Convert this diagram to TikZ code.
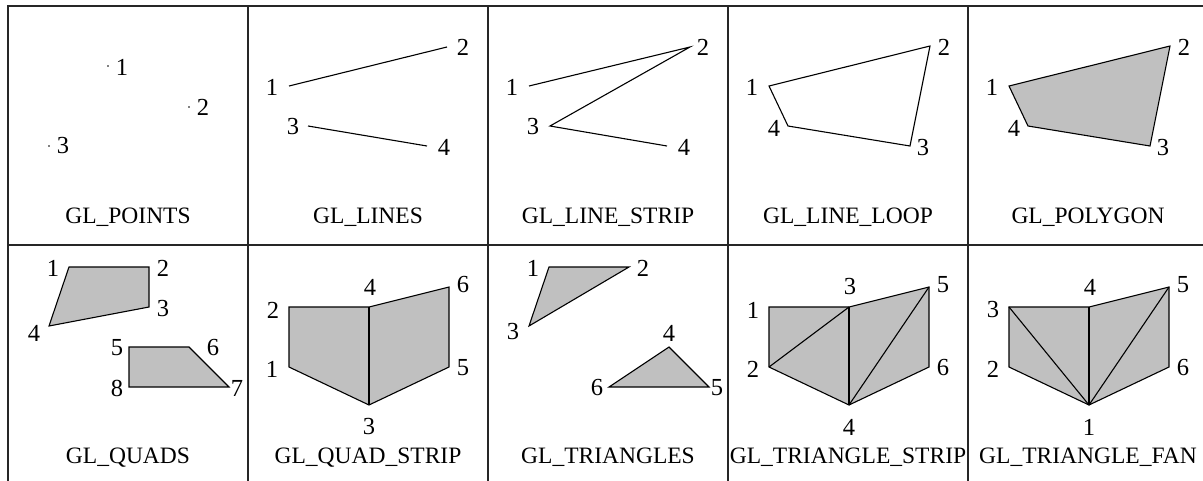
\documentclass[tikz,border=0pt]{standalone}
\usepackage{fontspec}
\setmainfont{Liberation Serif}
\definecolor{polyfill}{HTML}{C0C0C0}
\begin{document}
\begin{tikzpicture}[x=1pt,y=-1pt,
  gridline/.style={line width=2pt, black!85},
  edge/.style={line width=1.1pt, black},
  face/.style={fill=polyfill, draw=black, line width=1.1pt, line join=miter},
  num/.style={inner sep=0pt, font=\fontsize{24.5}{24.5}\selectfont},
  captext/.style={inner sep=0pt, anchor=base, font=\fontsize{23.5}{23.5}\selectfont}]
\useasboundingbox (0,0) rectangle (1203,480);
\fill[white] (0,0) rectangle (1203,480);
% grid
\draw[gridline] (7,6) -- (1210,6);
\draw[gridline] (7,245) -- (1210,245);
\foreach \gx in {8,248,488,728,968} {\draw[gridline] (\gx,5) -- (\gx,490);}
% ---- GL_POINTS
\begin{scope}[shift={(8,6)}]
  \coordinate (aA) at (100,60);
  \coordinate (aB) at (181,101);
  \coordinate (aC) at (41,140);
  \fill (aA) circle (0.9); \fill (aB) circle (0.9); \fill (aC) circle (0.9);
  \node[num] (aL1) at (114,61) {1};
  \node[num] (aL2) at (195,101) {2};
  \node[num] (aL3) at (55,140) {3};
  \node[captext] (aT) at (120,217) {GL\_POINTS};
\end{scope}
% ---- GL_LINES
\begin{scope}[shift={(248,6)}]
  \coordinate (bA) at (41,80);
  \coordinate (bB) at (199,41);
  \coordinate (bC) at (60,120);
  \coordinate (bD) at (179,140);
  \draw[edge] (bA) -- (bB);
  \draw[edge] (bC) -- (bD);
  \node[num] (bL1) at (24,81) {1};
  \node[num] (bL2) at (215,41) {2};
  \node[num] (bL3) at (45,121) {3};
  \node[num] (bL4) at (196,141) {4};
  \node[captext] (bT) at (120,217) {GL\_LINES};
\end{scope}
% ---- GL_LINE_STRIP
\begin{scope}[shift={(488,6)}]
  \coordinate (cA) at (41,80);
  \coordinate (cB) at (202,41);
  \coordinate (cC) at (62,120);
  \coordinate (cD) at (179,140);
  \draw[edge, line join=miter] (cA) -- (cB) -- (cC) -- (cD);
  \node[num] (cL1) at (24,81) {1};
  \node[num] (cL2) at (215,41) {2};
  \node[num] (cL3) at (45,121) {3};
  \node[num] (cL4) at (196,141) {4};
  \node[captext] (cT) at (120,217) {GL\_LINE\_STRIP};
\end{scope}
% ---- GL_LINE_LOOP
\begin{scope}[shift={(728,6)}]
  \coordinate (dA) at (41,80);
  \coordinate (dB) at (202,40);
  \coordinate (dC) at (182,140);
  \coordinate (dD) at (60,120);
  \draw[edge, line join=miter] (dA) -- (dB) -- (dC) -- (dD) -- cycle;
  \node[num] (dL1) at (24,81) {1};
  \node[num] (dL2) at (216,41) {2};
  \node[num] (dL3) at (195,142) {3};
  \node[num] (dL4) at (46,122) {4};
  \node[captext] (dT) at (120,217) {GL\_LINE\_LOOP};
\end{scope}
% ---- GL_POLYGON
\begin{scope}[shift={(968,6)}]
  \coordinate (eA) at (41,80);
  \coordinate (eB) at (202,40);
  \coordinate (eC) at (182,140);
  \coordinate (eD) at (60,120);
  \draw[face] (eA) -- (eB) -- (eC) -- (eD) -- cycle;
  \node[num] (eL1) at (24,81) {1};
  \node[num] (eL2) at (216,41) {2};
  \node[num] (eL3) at (195,142) {3};
  \node[num] (eL4) at (46,122) {4};
  \node[captext] (eT) at (120,217) {GL\_POLYGON};
\end{scope}
% ---- GL_QUADS
\begin{scope}[shift={(8,245)}]
  \coordinate (fA) at (61,22);
  \coordinate (fB) at (141,22);
  \coordinate (fC) at (141,62);
  \coordinate (fD) at (41,81);
  \coordinate (fE) at (121,102);
  \coordinate (fF) at (181,102);
  \coordinate (fG) at (221,142);
  \coordinate (fH) at (121,142);
  \draw[face] (fA) -- (fB) -- (fC) -- (fD) -- cycle;
  \draw[face] (fE) -- (fF) -- (fG) -- (fH) -- cycle;
  \node[num] (fL1) at (45,23) {1};
  \node[num] (fL2) at (155,23) {2};
  \node[num] (fL3) at (155,64) {3};
  \node[num] (fL4) at (26,88) {4};
  \node[num] (fL5) at (109,103) {5};
  \node[num] (fL6) at (205,103) {6};
  \node[num] (fL7) at (229,143) {7};
  \node[num] (fL8) at (109,143) {8};
  \node[captext] (fT) at (120,218) {GL\_QUADS};
\end{scope}
% ---- GL_QUAD_STRIP
\begin{scope}[shift={(248,245)}]
  \coordinate (gA) at (41,122);
  \coordinate (gB) at (41,62);
  \coordinate (gC) at (121,160);
  \coordinate (gD) at (121,62);
  \coordinate (gE) at (201,122);
  \coordinate (gF) at (201,42);
  \draw[face] (gA) -- (gB) -- (gD) -- (gF) -- (gE) -- (gC) -- cycle;
  \draw[edge] (gC) -- (gD);
  \node[num] (gL1) at (24,124) {1};
  \node[num] (gL2) at (25,65) {2};
  \node[num] (gL3) at (121,182) {3};
  \node[num] (gL4) at (122,42) {4};
  \node[num] (gL5) at (215,123) {5};
  \node[num] (gL6) at (215,40) {6};
  \node[captext] (gT) at (120,218) {GL\_QUAD\_STRIP};
\end{scope}
% ---- GL_TRIANGLES
\begin{scope}[shift={(488,245)}]
  \coordinate (hA) at (61,22);
  \coordinate (hB) at (141,22);
  \coordinate (hC) at (41,81);
  \coordinate (hD) at (181,102);
  \coordinate (hE) at (221,142);
  \coordinate (hF) at (121,142);
  \draw[face] (hA) -- (hB) -- (hC) -- cycle;
  \draw[face] (hD) -- (hE) -- (hF) -- cycle;
  \node[num] (hL1) at (45,23) {1};
  \node[num] (hL2) at (155,23) {2};
  \node[num] (hL3) at (25,87) {3};
  \node[num] (hL4) at (181,88) {4};
  \node[num] (hL5) at (229,143) {5};
  \node[num] (hL6) at (109,143) {6};
  \node[captext] (hT) at (120,218) {GL\_TRIANGLES};
\end{scope}
% ---- GL_TRIANGLE_STRIP
\begin{scope}[shift={(728,245)}]
  \coordinate (iA) at (41,62);
  \coordinate (iB) at (41,122);
  \coordinate (iC) at (121,62);
  \coordinate (iD) at (121,160);
  \coordinate (iE) at (201,42);
  \coordinate (iF) at (201,122);
  \draw[face] (iA) -- (iC) -- (iE) -- (iF) -- (iD) -- (iB) -- cycle;
  \draw[edge] (iB) -- (iC);
  \draw[edge] (iC) -- (iD);
  \draw[edge] (iD) -- (iE);
  \node[num] (iL1) at (25,65) {1};
  \node[num] (iL2) at (25,124) {2};
  \node[num] (iL3) at (122,42) {3};
  \node[num] (iL4) at (121,182) {4};
  \node[num] (iL5) at (215,40) {5};
  \node[num] (iL6) at (215,123) {6};
  \node[captext] (iT) at (120,218) {GL\_TRIANGLE\_STRIP};
\end{scope}
% ---- GL_TRIANGLE_FAN
\begin{scope}[shift={(968,245)}]
  \coordinate (jA) at (121,160);
  \coordinate (jB) at (41,122);
  \coordinate (jC) at (41,62);
  \coordinate (jD) at (121,62);
  \coordinate (jE) at (201,42);
  \coordinate (jF) at (201,122);
  \draw[face] (jB) -- (jC) -- (jD) -- (jE) -- (jF) -- (jA) -- cycle;
  \draw[edge] (jA) -- (jC);
  \draw[edge] (jA) -- (jD);
  \draw[edge] (jA) -- (jE);
  \node[num] (jL1) at (121,182) {1};
  \node[num] (jL2) at (25,124) {2};
  \node[num] (jL3) at (25,65) {3};
  \node[num] (jL4) at (122,42) {4};
  \node[num] (jL5) at (215,40) {5};
  \node[num] (jL6) at (215,123) {6};
  \node[captext] (jT) at (120,218) {GL\_TRIANGLE\_FAN};
\end{scope}
\end{tikzpicture}
\end{document}
